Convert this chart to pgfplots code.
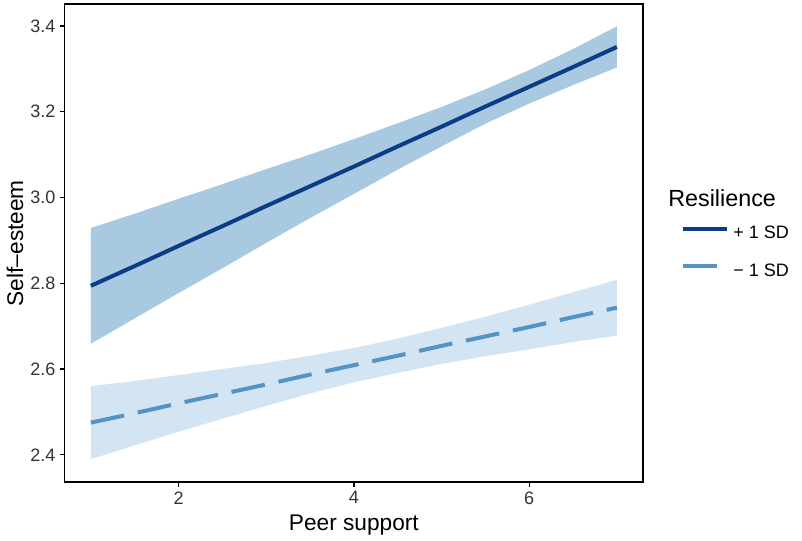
\documentclass[border=0pt]{standalone}
\usepackage{fontspec}
\setmainfont{Liberation Sans}
\usepackage{pgfplots}
\usepackage{pgfplotstable}
\pgfplotsset{compat=1.18}
\usepgfplotslibrary{fillbetween}

\definecolor{hiline}{HTML}{0C3C85}
\definecolor{hiband}{HTML}{A8C9E0}
\definecolor{loline}{HTML}{5394C4}
\definecolor{loband}{HTML}{D3E4F3}

% +1 SD: fitted line and confidence band
\pgfplotstableread{
x    fit    lo     hi
1.0  2.794  2.659  2.929
1.5  2.840  2.718  2.962
2.0  2.887  2.777  2.997
2.5  2.933  2.835  3.031
3.0  2.980  2.894  3.066
3.5  3.026  2.952  3.100
4.0  3.072  3.008  3.136
4.5  3.119  3.065  3.173
5.0  3.165  3.119  3.211
5.5  3.212  3.172  3.252
6.0  3.258  3.219  3.297
6.5  3.304  3.262  3.346
7.0  3.351  3.303  3.399
}\highsd

% -1 SD
\pgfplotstableread{
x    fit    lo     hi
1.0  2.475  2.390  2.560
1.5  2.497  2.422  2.572
2.0  2.520  2.454  2.586
2.5  2.542  2.484  2.600
3.0  2.564  2.514  2.614
3.5  2.587  2.543  2.631
4.0  2.609  2.569  2.649
4.5  2.631  2.591  2.671
5.0  2.654  2.612  2.696
5.5  2.676  2.630  2.722
6.0  2.698  2.646  2.750
6.5  2.721  2.663  2.779
7.0  2.743  2.678  2.808
}\lowsd

\begin{document}
\begin{tikzpicture}
\begin{axis}[
  name=main,
  at={(0,0)}, anchor=south west,
  scale only axis, width=434pt, height=358.7pt,
  xmin=0.7, xmax=7.3, ymin=2.336, ymax=3.451,
  axis line style={line width=1.4pt},
  xtick={2,4,6}, ytick={2.4,2.6,2.8,3.0,3.2,3.4},
  xtick pos=left, ytick pos=left,
  tick align=outside, major tick length=3.4pt,
  tick style={line width=1pt, black},
  /pgf/number format/assume math mode=true,
  tick label style={font=\fontsize{13.5}{13.5}\selectfont, text=black!80},
  yticklabel style={/pgf/number format/.cd, fixed, fixed zerofill, precision=1},
  xlabel={Peer support}, ylabel={Self–esteem},
  label style={font=\fontsize{17}{17}\selectfont},
  xlabel style={at={([yshift=-35.8pt]axis description cs:0.5,0)}, anchor=base},
  ylabel style={at={([xshift=-31pt]axis description cs:0,0.5)}, anchor=base},
  legend style={at={(axis description cs:1.0654,0.4808)}, anchor=west,
    draw=none, fill=none, inner sep=0pt, row sep=17pt,
    font=\fontsize{13.5}{13.5}\selectfont, nodes={inner sep=0pt}},
  legend cell align=left,
  legend image code/.code={\draw[#1] (0pt,3.4pt) -- (33pt,3.4pt); \path (36pt,3.4pt);},
]
\addplot[name path=Ahi, draw=none, forget plot] table[x=x, y=hi] {\highsd};
\addplot[name path=Alo, draw=none, forget plot] table[x=x, y=lo] {\highsd};
\addplot[fill=hiband, draw=none, forget plot] fill between[of=Ahi and Alo];
\addplot[name path=Bhi, draw=none, forget plot] table[x=x, y=hi] {\lowsd};
\addplot[name path=Blo, draw=none, forget plot] table[x=x, y=lo] {\lowsd};
\addplot[fill=loband, draw=none, forget plot] fill between[of=Bhi and Blo];

\addplot[hiline, line width=3pt, no marks] table[x=x, y=fit] {\highsd};
\addlegendentry{+ 1 SD}
\addplot[loline, line width=3pt, no marks, dash pattern=on 25.5pt off 10.5pt] table[x=x, y=fit] {\lowsd};
\addlegendentry{− 1 SD}
\end{axis}
\node[anchor=base west, inner sep=0pt, font=\fontsize{17.5}{17.5}\selectfont]
  at ([shift={(452.6pt,206.5pt)}]main.south west) {Resilience};
\pgfresetboundingbox
\useasboundingbox (-48.4pt,-43.3pt) rectangle (553.1pt,361.7pt);
\end{tikzpicture}
\end{document}
